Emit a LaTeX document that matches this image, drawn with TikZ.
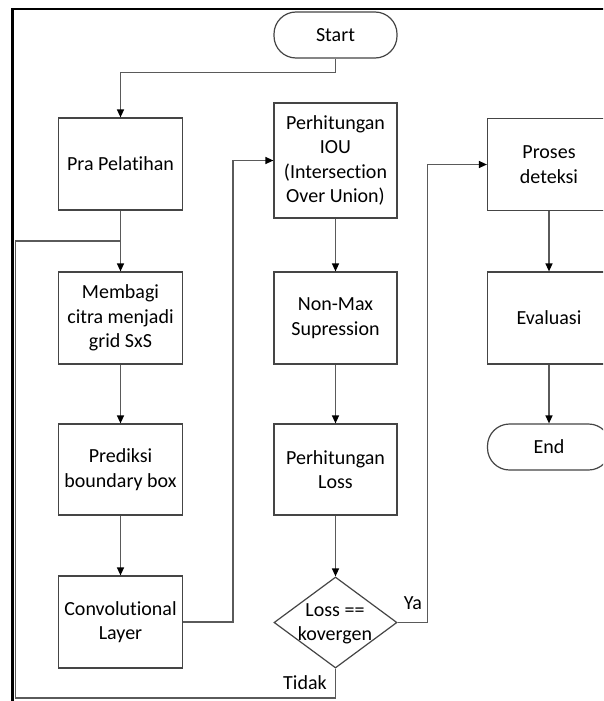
\documentclass[tikz,border=0pt]{standalone}
\usepackage{fontspec}
\setmainfont{Carlito}[Ligatures={NoCommon}]
\usetikzlibrary{arrows.meta,shapes.geometric}
\definecolor{boxgray}{HTML}{454545}
\definecolor{linegray}{HTML}{5A5A5A}
\tikzset{
  proc/.style={draw=boxgray, line width=1.2pt, rectangle, inner sep=0pt,
    minimum width=123pt, minimum height=92pt, align=center,
    font=\fontsize{20}{24.5}\selectfont},
  term/.style={draw=boxgray, line width=1.2pt, rectangle, rounded corners=22pt,
    inner sep=0pt, minimum width=123pt, minimum height=46pt, align=center,
    font=\fontsize{20}{24.5}\selectfont},
  decis/.style={draw=boxgray, line width=1.2pt, diamond, inner sep=0pt,
    minimum width=123pt, minimum height=91pt},
  txt/.style={inner sep=0pt, align=center, font=\fontsize{20}{24.5}\selectfont},
  conn/.style={draw=linegray, line width=1.3pt},
  arr/.style={conn, -{Triangle[length=8pt,width=7pt,color=black]}},
}
\begin{document}
\begin{tikzpicture}[x=1pt,y=-1pt]
\useasboundingbox (0,0) rectangle (603,701);
\clip (0,0) rectangle (603,701);
\fill[white] (0,0) rectangle (603,701);
% frame
\draw[line width=2.6pt, black] (12.5,720) -- (12.5,9) -- (640,9);
% nodes
\node[term] (start) at (335.5,35) {Start};
\node[proc, minimum width=124pt] (pra) at (120.5,164) {Pra Pelatihan};
\node[proc, minimum width=124pt] (membagi) at (120.5,318) {Membagi\\citra menjadi\\grid SxS};
\node[proc, minimum width=124pt, minimum height=91pt] (prediksi) at (120.5,469.5) {Prediksi\\boundary box};
\node[proc, minimum width=124pt] (conv) at (120.5,622) {Convolutional\\Layer};
\node[proc, minimum height=115pt] (iou) at (335.5,160.5) {Perhitungan\\IOU\\(Intersection\\Over Union)};
\node[proc] (nms) at (335.5,318) {Non-Max\\Supression};
\node[proc, minimum height=91pt] (loss) at (335.5,469.5) {Perhitungan\\Loss};
\node[decis] (dec) at (335.5,622.5) {};
\node[txt] (dectext) at (335,624) {Loss ==\\kovergen};
\node[proc] (proses) at (549,164.5) {Proses\\deteksi};
\node[proc] (eval) at (549,318) {Evaluasi};
\node[term] (end) at (549,447) {End};
\node[txt] (ya) at (413,603) {Ya};
\node[txt] (tidak) at (305,683) {Tidak};
\coordinate (join) at (120.5,241);
% connectors
\draw[arr] (start.south) -- ++(0,14) -| (pra.north);
\draw[arr] (pra.south) -- (membagi.north);
\draw[arr] (membagi.south) -- (prediksi.north);
\draw[arr] (prediksi.south) -- (conv.north);
\draw[arr] (conv.east) -- ++(50,0) |- (iou.west);
\draw[arr] (iou.south) -- (nms.north);
\draw[arr] (nms.south) -- (loss.north);
\draw[arr] (loss.south) -- (dec.north);
\draw[arr] (dec.east) -- ++(30,0) |- (proses.west);
\draw[conn] (dec.south) -- (335.5,698) -- (15.5,698) -- (15.5,241) -- (join);
\draw[arr] (proses.south) -- (eval.north);
\draw[arr] (eval.south) -- (end.north);
\end{tikzpicture}
\end{document}
